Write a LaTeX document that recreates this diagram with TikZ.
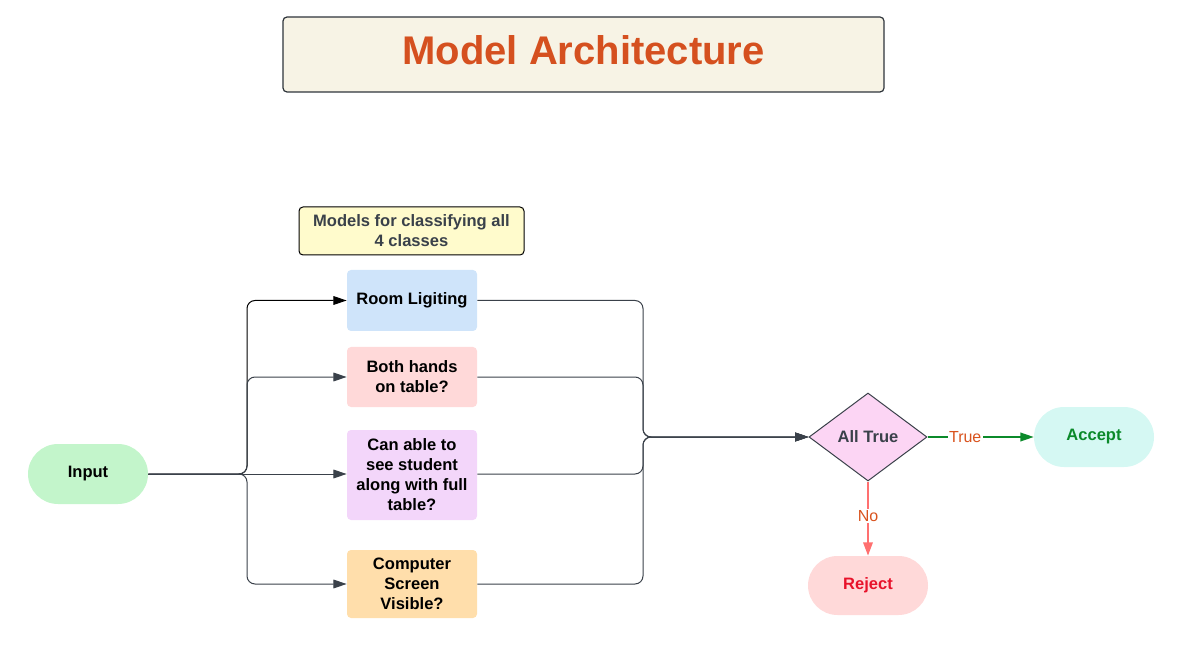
\documentclass[tikz,border=0pt]{standalone}
\usepackage{fontspec}
\setmainfont{Liberation Sans}
\usetikzlibrary{shapes.geometric,shapes.misc,arrows.meta}
\definecolor{titlefill}{HTML}{F7F3E5}
\definecolor{titletext}{HTML}{D5501F}
\definecolor{edgegray}{HTML}{3A414A}
\definecolor{noteyellow}{HTML}{FFFBCC}
\definecolor{boxblue}{HTML}{CFE4FA}
\definecolor{boxpink}{HTML}{FFD9D9}
\definecolor{boxpurple}{HTML}{F3D6FA}
\definecolor{boxorange}{HTML}{FFDEAB}
\definecolor{inputgreen}{HTML}{C3F5CB}
\definecolor{acceptfill}{HTML}{D5F8F3}
\definecolor{diamondfill}{HTML}{FCD5F4}
\definecolor{acceptgreen}{HTML}{0B8A2A}
\definecolor{rejectred}{HTML}{E8132B}
\definecolor{noline}{HTML}{FF7070}
\definecolor{lblorange}{HTML}{D9531E}
\tikzset{
  base/.style={font=\fontsize{12.4}{15}\selectfont\bfseries, align=center, inner sep=0pt},
  model/.style={base, rectangle, rounded corners=3pt, minimum width=97.5pt},
  pill/.style={base, rounded rectangle, minimum width=90pt, minimum height=45pt},
  conn/.style={draw=edgegray, line width=0.75pt, rounded corners=6pt},
  tip/.style={-{Triangle[length=10pt,width=6.5pt]}},
  lbl/.style={font=\fontsize{12}{14}\selectfont, text=lblorange, fill=white, inner sep=1pt}
}
\begin{document}
\begin{tikzpicture}[x=0.75pt,y=-0.75pt]
\useasboundingbox (0,0) rectangle (1196,645);
% title
\node[draw=edgegray!80!black, line width=0.9pt, fill=titlefill, rounded corners=3pt,
      minimum width=450.75pt, minimum height=56.25pt, inner sep=0pt] (title) at (583.5,54.5) {};
\node[text=titletext, font=\fontsize{30}{36}\selectfont\bfseries, inner sep=0pt] (titlelbl) at (583.5,50) {Model Architecture};
% note
\node[base, draw=black, line width=0.75pt, fill=noteyellow, rounded corners=3pt,
      minimum width=168.75pt, minimum height=36pt, text=edgegray] (note) at (411.5,231)
      {Models for classifying all\\4 classes};
% model boxes
\node[model, fill=boxblue, minimum height=45.75pt] (room) at (412,300.5) {Room Ligiting};
\node[model, fill=boxpink, minimum height=45pt] (hands) at (412,377) {Both hands\\on table?};
\node[model, fill=boxpurple, minimum height=67.5pt] (can) at (412,475) {Can able to\\see student\\along with full\\table?};
\node[model, fill=boxorange, minimum height=51pt] (comp) at (412,584) {Computer\\Screen\\Visible?};
% input / outputs
\node[pill, fill=inputgreen] (input) at (88,474) {Input};
\node[base, diamond, draw=edgegray, line width=0.75pt, fill=diamondfill, aspect=1.34,
      minimum width=88.5pt, minimum height=66pt, text=edgegray] (dec) at (868,437) {All True};
\node[pill, fill=acceptfill, text=acceptgreen] (accept) at (1094,437) {Accept};
\node[pill, fill=boxpink, text=rejectred, minimum height=44.25pt] (reject) at (868,585.5) {Reject};
% junctions
\coordinate (split) at (247,474);
\coordinate (merge) at (643,437);
% input fan-out
\draw[conn, tip, draw=black] (input.east) -- (split) |- (room.west);
\draw[conn, tip] (input.east) -- (split) |- (hands.west);
\draw[conn, tip] (input.east) -- (can.west |- input.east);
\draw[conn, tip] (input.east) -- (split) |- (comp.west);
% fan-in
\draw[conn, tip] (room.east) -| (merge) -- (dec.west);
\draw[conn, tip] (hands.east) -| (merge) -- (dec.west);
\draw[conn, tip] (can.east |- input.east) -| (merge) -- (dec.west);
\draw[conn, tip] (comp.east) -| (merge) -- (dec.west);
% decisions
\draw[draw=acceptgreen, line width=1.1pt, tip] (dec.east) -- node[lbl, pos=0.355]{True} (accept.west);
\draw[draw=noline, line width=1.6pt, -{Triangle[length=10pt,width=7pt]}] (dec.south) -- node[lbl, pos=0.47]{No} (reject.north);
\end{tikzpicture}
\end{document}
